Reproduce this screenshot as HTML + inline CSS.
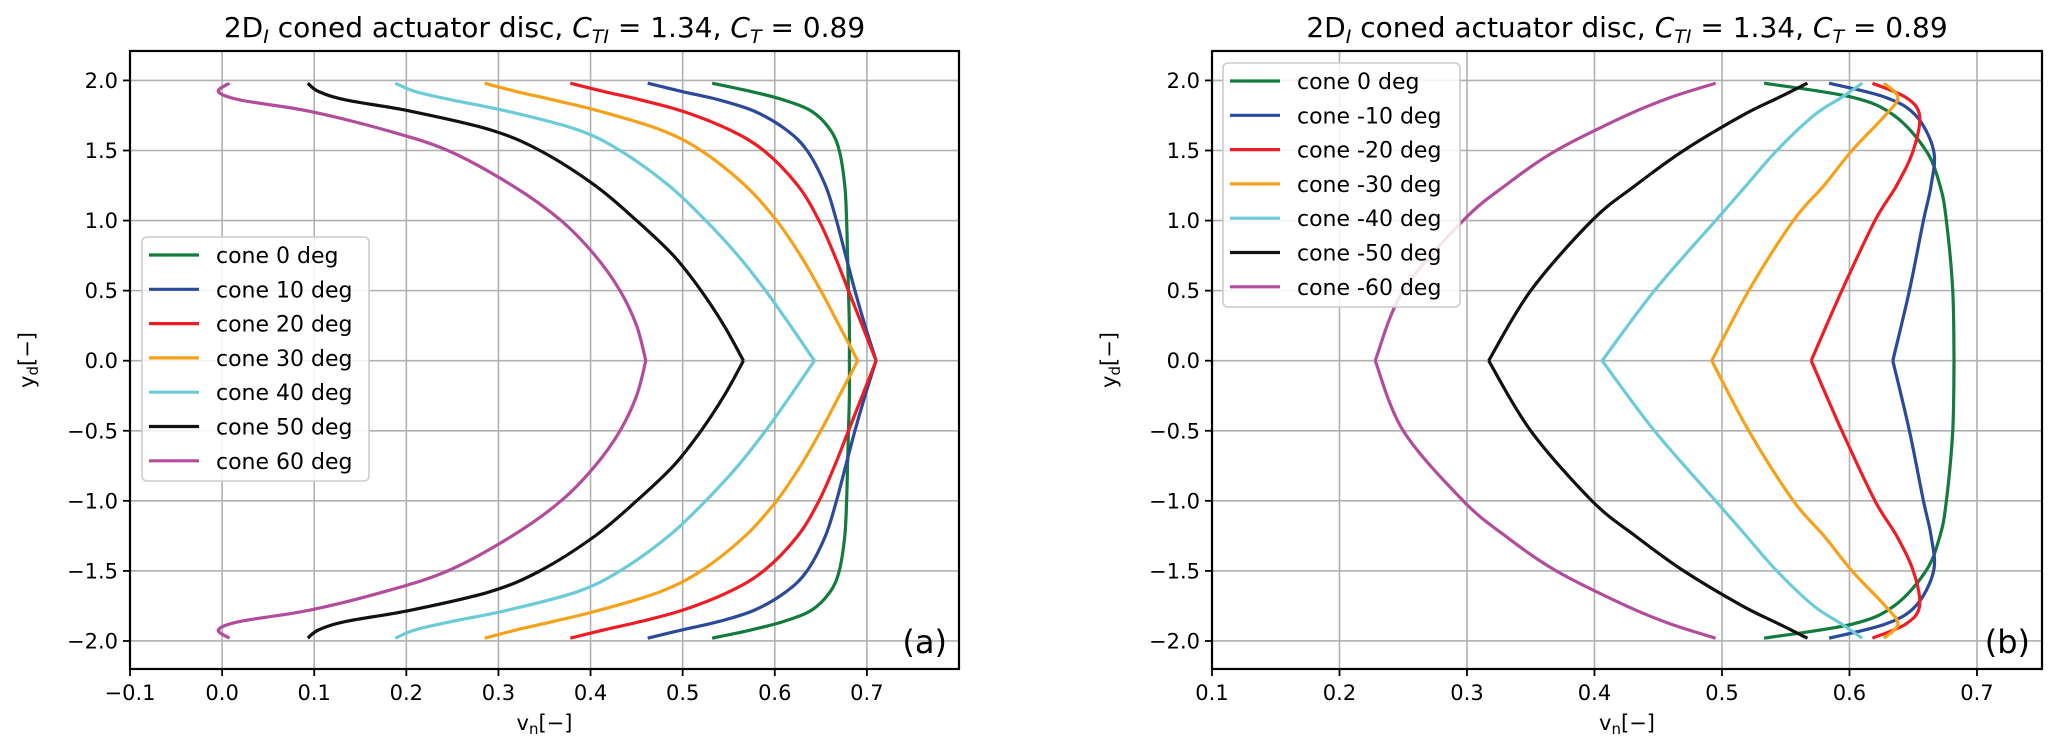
<!DOCTYPE html>
<html><head><meta charset="utf-8"><style>
html,body{margin:0;padding:0;background:#fff}
svg{display:block;font-family:"DejaVu Sans","Liberation Sans",sans-serif}
</style></head><body>
<svg id="fig" width="2067" height="755" viewBox="0 0 2067 755"></svg>
<script>
const NS="http://www.w3.org/2000/svg";
const svg=document.getElementById('fig');
const colors=["#127b3d","#2b4a9a","#ee1c24","#f5a11a","#6ccbd9","#111111","#b24d9c"];
// Panel (a)
const labelsA=["cone 0 deg","cone 10 deg","cone 20 deg","cone 30 deg","cone 40 deg","cone 50 deg","cone 60 deg"];
const ysA=[1.98,1.92,1.86,1.78,1.65,1.5,1.25,1.0,0.75,0.5,0.25,0];
const a0=[0.532,0.575,0.61,0.64,0.66,0.67,0.676,0.678,0.679,0.68,0.681,0.681];
const a10=[0.462,0.50,0.54,0.578,0.612,0.635,0.655,0.667,0.677,0.687,0.698,0.71];
const a20=[0.378,0.415,0.455,0.50,0.55,0.588,0.625,0.648,0.665,0.68,0.695,0.71];
const a30=[0.285,0.32,0.36,0.41,0.475,0.52,0.568,0.602,0.628,0.65,0.67,0.69];
const a40=[0.188,0.21,0.25,0.31,0.385,0.432,0.485,0.525,0.56,0.59,0.617,0.643];
const a50=[0.093,0.105,0.135,0.205,0.29,0.345,0.405,0.45,0.49,0.52,0.545,0.566];
const a60=[0.008,-0.004,0.02,0.095,0.175,0.245,0.315,0.368,0.405,0.432,0.45,0.46];
// Panel (b)
const labelsB=["cone 0 deg","cone -10 deg","cone -20 deg","cone -30 deg","cone -40 deg","cone -50 deg","cone -60 deg"];
const ysB=[1.98,1.88,1.75,1.5,1.25,1.0,0.5,0];
const b0=[0.533,0.602,0.635,0.66,0.671,0.676,0.681,0.682];
const b10=[0.584,0.628,0.652,0.666,0.664,0.658,0.647,0.634];
const b20=[0.618,0.644,0.655,0.65,0.637,0.62,0.594,0.57];
const b30=[0.627,0.638,0.628,0.602,0.58,0.556,0.521,0.492];
const b40=[0.61,0.594,0.572,0.543,0.519,0.495,0.447,0.406];
const b50=[0.567,0.545,0.516,0.47,0.432,0.398,0.35,0.317];
const b60=[0.495,0.46,0.425,0.37,0.33,0.297,0.25,0.228];
const yTicks=[2.0,1.5,1.0,0.5,0.0,-0.5,-1.0,-1.5,-2.0];
const xTicksA=[-0.1,0.0,0.1,0.2,0.3,0.4,0.5,0.6,0.7];
const xTicksB=[0.1,0.2,0.3,0.4,0.5,0.6,0.7];

function el(tag,attrs,parent){const e=document.createElementNS(NS,tag);for(const k in attrs)e.setAttribute(k,attrs[k]);(parent||svg).appendChild(e);return e;}
function fmt(v){const s=v.toFixed(1);return s.replace('-','\u2212');}
function smooth(pts){let d="M"+pts[0][0]+","+pts[0][1];for(let i=0;i<pts.length-1;i++){const p0=pts[Math.max(0,i-1)],p1=pts[i],p2=pts[i+1],p3=pts[Math.min(pts.length-1,i+2)];const c1=[p1[0]+(p2[0]-p0[0])/6,p1[1]+(p2[1]-p0[1])/6];const c2=[p2[0]-(p3[0]-p1[0])/6,p2[1]-(p3[1]-p1[1])/6];d+=" C"+c1[0].toFixed(2)+","+c1[1].toFixed(2)+" "+c2[0].toFixed(2)+","+c2[1].toFixed(2)+" "+p2[0].toFixed(2)+","+p2[1].toFixed(2);}return d;}

function panel(o){
  const g=el('g',{});
  
  
  const X=v=>o.L+(v-o.x0)/(o.x1-o.x0)*(o.R-o.L);
  const Y=v=>o.T+(o.y1-v)/(o.y1-o.y0)*(o.B-o.T);
  o.xt.forEach(v=>{const l=el('line',{x1:X(v),x2:X(v),y1:o.T,y2:o.B,stroke:'#b0b0b0','stroke-width':1.6},g);});
  yTicks.forEach(v=>{const l=el('line',{x1:o.L,x2:o.R,y1:Y(v),y2:Y(v),stroke:'#b0b0b0','stroke-width':1.6},g);});
  o.series.forEach((vs,i)=>{
    const top=o.ys.map((y,k)=>[X(vs[k]),Y(y)]);
    const bot=o.ys.slice().reverse().map((y,k)=>[X(vs[vs.length-1-k]),Y(-y)]);
    const p=el('path',{d:smooth(top)+" "+smooth(bot).replace('M',' M'),fill:'none',stroke:colors[i],'stroke-width':3.2,'stroke-linejoin':'miter','stroke-linecap':'butt'},g);
    
    
  });
  const f=el('rect',{x:o.L,y:o.T,width:o.R-o.L,height:o.B-o.T,fill:'none',stroke:'#000','stroke-width':2.2},g);
  
  o.xt.forEach(v=>{
    el('line',{x1:X(v),x2:X(v),y1:o.B,y2:o.B+7,stroke:'#000','stroke-width':1.8},g);
    const t=el('text',{x:X(v),y:o.B+31,'font-size':21,'text-anchor':'middle',fill:'#000'},g);t.textContent=fmt(v);
    
  });
  yTicks.forEach(v=>{
    el('line',{x1:o.L-7,x2:o.L,y1:Y(v),y2:Y(v),stroke:'#000','stroke-width':1.8},g);
    const t=el('text',{x:o.L-12,y:Y(v)+7.5,'font-size':21,'text-anchor':'end',fill:'#000'},g);t.textContent=fmt(v);
    
  });
  const xl=el('text',{x:(o.L+o.R)/2,y:730,'font-size':21,'text-anchor':'middle'},g);
  xl.innerHTML='v<tspan font-size="15" dy="4">n</tspan><tspan dy="-4">[\u2212]</tspan>';
  
  const yl=el('text',{x:0,y:0,'font-size':21,'text-anchor':'middle',transform:'translate('+(o.L-96)+','+((o.T+o.B)/2)+') rotate(-90)'},g);
  yl.innerHTML='y<tspan font-size="15" dy="4">d</tspan><tspan dy="-4">[\u2212]</tspan>';
  
  const ti=el('text',{x:(o.L+o.R)/2,y:37,'font-size':28,'text-anchor':'middle'},g);
  ti.innerHTML='2D<tspan font-size="19" font-style="italic" dy="6">I</tspan><tspan dy="-6"> coned actuator disc, </tspan><tspan font-style="italic">C</tspan><tspan font-size="19" font-style="italic" dy="6">TI</tspan><tspan dy="-6"> = 1.34, </tspan><tspan font-style="italic">C</tspan><tspan font-size="19" font-style="italic" dy="6">T</tspan><tspan dy="-6"> = 0.89</tspan>';
  
  const pl=el('text',{x:o.R-12,y:o.B-16,'font-size':32,'text-anchor':'end'},g);pl.textContent=o.tag;
  
  const lg=el('g',{},g);
  el('rect',{x:o.lx,y:o.ly,width:o.lw,height:244,rx:5,fill:'#fff','fill-opacity':0.85,stroke:'#ccc','stroke-width':1.6},lg);
  o.labels.forEach((s,i)=>{
    const e=el('g',{},lg);
    const yy=o.ly+18+i*34.3;
    el('line',{x1:o.lx+7,x2:o.lx+57,y1:yy,y2:yy,stroke:colors[i],'stroke-width':3.2},e);
    const t=el('text',{x:o.lx+74,y:yy+8,'font-size':22},e);t.textContent=s;
  });
}
panel({name:'panel-a',L:130,R:959,T:51,B:669,x0:-0.1,x1:0.8,y0:-2.2,y1:2.21,xt:xTicksA,ys:ysA,series:[a0,a10,a20,a30,a40,a50,a60],labels:labelsA,tag:'(a)',lx:142,ly:237,lw:227});
panel({name:'panel-b',L:1212,R:2042,T:51,B:669,x0:0.1,x1:0.751,y0:-2.2,y1:2.21,xt:xTicksB,ys:ysB,series:[b0,b10,b20,b30,b40,b50,b60],labels:labelsB,tag:'(b)',lx:1223,ly:63,lw:237});
</script>
</body></html>
